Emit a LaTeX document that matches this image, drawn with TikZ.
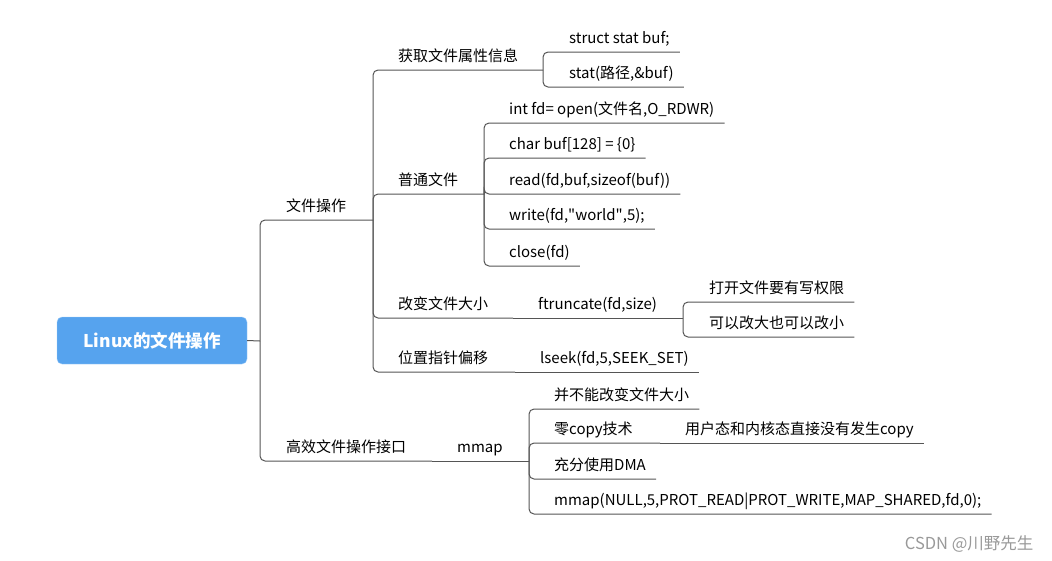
\documentclass[tikz,border=0pt]{standalone}
\usepackage{fontspec}
\setmainfont{Noto Sans CJK SC}
\definecolor{rootblue}{HTML}{56A3EE}
\definecolor{rootedge}{HTML}{9FCCF7}
\definecolor{linkgray}{HTML}{555555}
\definecolor{markgray}{HTML}{999999}
\tikzset{
  topic/.style={anchor=south west, inner xsep=0pt, inner ysep=8pt, text depth=0pt,
    font=\fontsize{15}{18}\selectfont},
  link/.style={draw=linkgray, line width=1pt, rounded corners=5pt},
  root/.style={draw=rootedge, fill=rootblue, text=white, rounded corners=5pt,
    minimum width=190pt, minimum height=47pt, font=\fontsize{17.5}{20}\selectfont\bfseries}
}

\begin{document}
\begin{tikzpicture}[x=1pt,y=-1pt]
  \useasboundingbox (0,0) rectangle (1052,560);
  \node[root] (root) at (152,340.5) {Linux的文件操作};

  \coordinate (r0)   at (260,341);
  \coordinate (fo)   at (373,220);
  \coordinate (gx)   at (432,461);
  \coordinate (attr) at (543,70);
  \coordinate (norm) at (484,194);
  \coordinate (size) at (513,318);
  \coordinate (pos)  at (515,372);
  \coordinate (ftr)  at (683,318);
  \coordinate (mm)   at (529,461);
  \coordinate (zero) at (660,443);

  \node[topic] (fotext)   at (286,220) {文件操作};
  \node[topic] (gxtext)   at (286,461) {高效文件操作接口};
  \node[topic] (attrtext) at (398,70)  {获取文件属性信息};
  \node[topic] (normtext) at (398,194) {普通文件};
  \node[topic] (sizetext) at (398,318) {改变文件大小};
  \node[topic] (postext)  at (398,372) {位置指针偏移};
  \node[topic] (mmtext)   at (457,461) {mmap};

  \node[topic] (st)    at (569,52)  {struct stat buf;};
  \node[topic] (stat)  at (569,87)  {stat(路径,\&buf)};
  \node[topic] (open)  at (509,123) {int fd= open(文件名,O\_RDWR)};
  \node[topic] (buf)   at (509,158) {char buf[128] = \{0\}};
  \node[topic] (read)  at (509,194) {read(fd,buf,sizeof(buf))};
  \node[topic] (write) at (509,229) {write(fd,\textquotedbl world\textquotedbl,5);};
  \node[topic] (close) at (509,266) {close(fd)};
  \node[topic] (ftrtext) at (538,318) {ftruncate(fd,size)};
  \node[topic] (wr)    at (709,302) {打开文件要有写权限};
  \node[topic] (big)   at (709,337) {可以改大也可以改小};
  \node[topic] (lseek) at (540,372) {lseek(fd,5,SEEK\_SET)};
  \node[topic] (nosz)  at (554,409) {并不能改变文件大小};
  \node[topic] (zerotext) at (554,443) {零copy技术};
  \node[topic] (user)  at (685,443) {用户态和内核态直接没有发生copy};
  \node[topic] (dma)   at (554,479) {充分使用DMA};
  \node[topic] (call)  at (554,514) {mmap(NULL,5,PROT\_READ|PROT\_WRITE,MAP\_SHARED,fd,0);};

  \draw[link] (root.east) -- (r0);
  \draw[link] (r0) |- (fo);
  \draw[link] (r0) |- (gx);
  \draw[link] (fo) |- (attr);
  \draw[link] (fo) |- (norm);
  \draw[link] (fo) |- (size);
  \draw[link] (fo) |- (pos);
  \draw[link] (gx) -- (mm);
  \draw[link] (attr) |- ([xshift=10pt]st.south east);
  \draw[link] (attr) |- ([xshift=10pt]stat.south east);
  \foreach \leaf in {open,buf,read,write,close}
    \draw[link] (norm) |- ([xshift=10pt]\leaf.south east);
  \draw[link] (size) -- (ftr);
  \draw[link] (ftr) |- ([xshift=10pt]wr.south east);
  \draw[link] (ftr) |- ([xshift=10pt]big.south east);
  \draw[link] (pos) -- ([xshift=10pt]lseek.south east);
  \draw[link] (mm) |- ([xshift=10pt]nosz.south east);
  \draw[link] (mm) |- (zero);
  \draw[link] (mm) |- ([xshift=10pt]dma.south east);
  \draw[link] (mm) |- ([xshift=10pt]call.south east);
  \draw[link] (zero) -- ([xshift=10pt]user.south east);

  \node[anchor=base east, text=markgray, font=\fontsize{16.5}{19}\selectfont] (mark)
    at (1037,549) {CSDN @川野先生};
\end{tikzpicture}
\end{document}
